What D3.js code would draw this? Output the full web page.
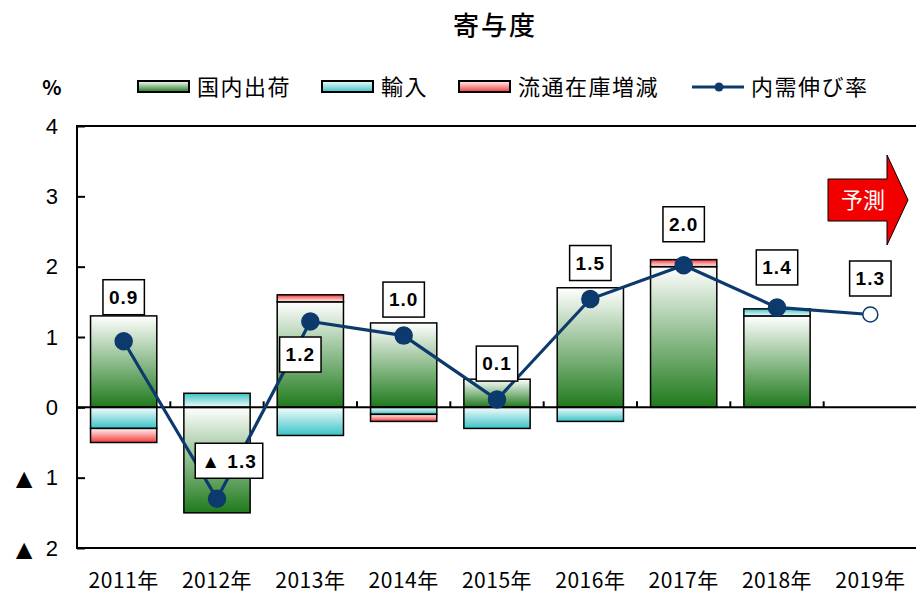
<!DOCTYPE html>
<html>
<head>
<meta charset="utf-8">
<script src="https://cdn.jsdelivr.net/npm/d3@7"></script>
<style>
  body { margin: 0; background: #fff; }
  svg { font-family: "Noto Sans CJK JP", "Liberation Sans", sans-serif; }
</style>
</head>
<body>
<div id="chart"></div>
<script>
// chart values
var years = ['2011年', '2012年', '2013年', '2014年', '2015年', '2016年', '2017年', '2018年', '2019年'];
var domestic = [1.3, -1.5, 1.5, 1.2, 0.4, 1.7, 2.0, 1.3, null];   // 国内出荷
var imports = [-0.3, 0.2, -0.4, -0.1, -0.3, -0.2, 0, 0.1, null];   // 輸入
var inventory = [-0.2, 0, 0.1, -0.1, 0, 0, 0.1, 0, null];         // 流通在庫増減
var demand = [0.94, -1.3, 1.22, 1.02, 0.11, 1.54, 2.02, 1.42, 1.32]; // 内需伸び率
var yTicks = [-2, -1, 0, 1, 2, 3, 4];
var seriesNames = ['国内出荷', '輸入', '流通在庫増減', '内需伸び率'];

var W = 916, H = 595;
var plotLeft = 77, plotRight = 917, plotTop = 126, plotBottom = 548;
var navy = '#0c3a6c';

var svg = d3.select('#chart').append('svg')
  .attr('width', W)
  .attr('height', H);

var defs = svg.append('defs');
function grad(id, c1, c2) {
  var g = defs.append('linearGradient').attr('id', id)
    .attr('x1', 0).attr('y1', 0).attr('x2', 0).attr('y2', 1);
  g.append('stop').attr('offset', '0%').attr('stop-color', c1);
  g.append('stop').attr('offset', '100%').attr('stop-color', c2);
}
grad('gGreen', '#ffffff', '#1f7a1c');
grad('gCyan', '#f4fcfc', '#3bc3c6');
grad('gCyanUp', '#3bc3c6', '#f4fcfc');
grad('gRed', '#fff4f4', '#f23a3a');
grad('gRedUp', '#f23a3a', '#fff4f4');

var x = d3.scaleBand().domain(years).range([plotLeft, plotRight]);
var y = d3.scaleLinear().domain([-2, 4]).range([plotBottom, plotTop]);
var barW = x.bandwidth() * 0.71;

// title
svg.append('text')
  .attr('x', 495).attr('y', 35)
  .attr('text-anchor', 'middle')
  .style('font-size', '26px')
  .style('font-weight', 500)
  .style('letter-spacing', '2px')
  .text('寄与度');

// legend
svg.append('text').attr('x', 52).attr('y', 95)
  .attr('text-anchor', 'middle')
  .style('font-size', '20px').style('font-weight', 'bold')
  .text('%');

var legendItems = [
  { x: 138, fill: 'url(#gGreen)', name: seriesNames[0] },
  { x: 322, fill: 'url(#gCyan)', name: seriesNames[1] },
  { x: 459, fill: 'url(#gRed)', name: seriesNames[2] },
  { x: 692, fill: null, name: seriesNames[3] }
];
legendItems.forEach(function(d) {
  if (d.fill) {
    svg.append('rect')
      .attr('x', d.x).attr('y', 81).attr('width', 51).attr('height', 11)
      .attr('fill', d.fill).attr('stroke', '#000').attr('stroke-width', 2);
  } else {
    svg.append('line')
      .attr('x1', d.x).attr('x2', d.x + 52).attr('y1', 87).attr('y2', 87)
      .attr('stroke', navy).attr('stroke-width', 3);
    svg.append('circle').attr('cx', d.x + 27).attr('cy', 87).attr('r', 4.5).attr('fill', navy);
  }
  svg.append('text')
    .attr('x', d.x + 59).attr('y', 95)
    .style('font-size', '22px')
    .style('letter-spacing', '1.5px')
    .text(d.name);
});

// y axis, ticks pointing inward
var yAxis = d3.axisLeft(y)
  .tickValues(yTicks)
  .tickSizeInner(-8)
  .tickSizeOuter(0)
  .tickPadding(19)
  .tickFormat(function(d) { return Math.abs(d); });

var gy = svg.append('g')
  .attr('transform', 'translate(' + plotLeft + ',0)')
  .call(yAxis);
gy.select('.domain').remove();
gy.selectAll('line').attr('stroke', '#000').attr('stroke-width', 2);
gy.selectAll('text')
  .style('font-size', '22px')
  .attr('fill', '#000');
gy.selectAll('.tick').filter(function(d) { return d < 0; })
  .append('text')
  .attr('x', -53).attr('dy', '0.36em')
  .attr('text-anchor', 'middle')
  .attr('fill', '#000')
  .style('font-size', '28px')
  .text('▲');

// frame
svg.append('path')
  .attr('d', 'M' + W + ',' + plotTop + 'H' + plotLeft + 'V' + plotBottom + 'H' + W)
  .attr('fill', 'none').attr('stroke', '#000').attr('stroke-width', 2);

// stacked bars
var segs = [];
years.forEach(function(yr, i) {
  if (domestic[i] === null) return;
  var pos = 0, neg = 0;
  [[domestic[i], 'dom'], [imports[i], 'imp'], [inventory[i], 'inv']].forEach(function(p) {
    var v = p[0];
    if (!v) return;
    var y0, y1;
    if (v > 0) { y0 = pos; pos += v; y1 = pos; } else { y0 = neg; neg += v; y1 = neg; }
    var fill;
    if (p[1] === 'dom') fill = 'url(#gGreen)';
    else if (p[1] === 'imp') fill = v > 0 ? 'url(#gCyanUp)' : 'url(#gCyan)';
    else fill = v > 0 ? 'url(#gRedUp)' : 'url(#gRed)';
    segs.push({ year: yr, y0: y0, y1: y1, fill: fill });
  });
});

svg.selectAll('.bar')
  .data(segs)
  .enter().append('rect')
  .attr('class', 'bar')
  .attr('x', function(d) { return x(d.year) + (x.bandwidth() - barW) / 2; })
  .attr('width', barW)
  .attr('y', function(d) { return y(Math.max(d.y0, d.y1)); })
  .attr('height', function(d) { return Math.abs(y(d.y0) - y(d.y1)); })
  .attr('fill', function(d) { return d.fill; })
  .attr('stroke', '#000')
  .attr('stroke-width', 1.5);

// zero line and category ticks
svg.append('line')
  .attr('x1', plotLeft).attr('x2', W)
  .attr('y1', y(0)).attr('y2', y(0))
  .attr('stroke', '#000').attr('stroke-width', 2);

svg.selectAll('.xtick')
  .data(years.slice(1))
  .enter().append('line')
  .attr('class', 'xtick')
  .attr('x1', function(d) { return x(d); })
  .attr('x2', function(d) { return x(d); })
  .attr('y1', y(0)).attr('y2', y(0) - 6)
  .attr('stroke', '#000').attr('stroke-width', 2);

// x labels
svg.selectAll('.xlab')
  .data(years)
  .enter().append('text')
  .attr('class', 'xlab')
  .attr('x', function(d) { return x(d) + x.bandwidth() / 2; })
  .attr('y', 588)
  .attr('text-anchor', 'middle')
  .style('font-size', '21px')
  .style('letter-spacing', '0.5px')
  .text(function(d) { return d; });

// demand line
var cx = function(d, i) { return x(years[i]) + x.bandwidth() / 2; };
var line = d3.line()
  .x(function(d, i) { return cx(d, i); })
  .y(function(d) { return y(d); });

svg.append('path')
  .datum(demand)
  .attr('d', line)
  .attr('fill', 'none')
  .attr('stroke', navy)
  .attr('stroke-width', 3.2);

svg.selectAll('.dot')
  .data(demand)
  .enter().append('circle')
  .attr('class', 'dot')
  .attr('cx', cx)
  .attr('cy', function(d) { return y(d); })
  .attr('r', function(d, i) { return i === demand.length - 1 ? 7.5 : 8.5; })
  .attr('fill', function(d, i) { return i === demand.length - 1 ? '#fff' : navy; })
  .attr('stroke', navy)
  .attr('stroke-width', 1.5);

// value labels
var labelShift = { '2011年': [0, -44], '2012年': [12, -38], '2013年': [-10, 33], '2017年': [0, -41], '2018年': [0, -40] };
demand.forEach(function(v, i) {
  var s = labelShift[years[i]] || [0, -36];
  var lx = cx(v, i) + s[0];
  var ly = y(v) + s[1];
  var txt = v < 0 ? '▲ ' + Math.abs(v).toFixed(1) : v.toFixed(1);
  var g = svg.append('g').attr('class', 'vlab');
  var rect = g.append('rect').attr('fill', '#fff').attr('stroke', '#000').attr('stroke-width', 1.5);
  var t = g.append('text')
    .attr('x', lx).attr('y', ly)
    .attr('dy', '0.36em')
    .attr('text-anchor', 'middle')
    .style('font-family', '"Liberation Sans", sans-serif')
    .style('font-size', '19px')
    .style('font-weight', 'bold')
    .style('letter-spacing', '1px')
    .text(txt);
  var bw = t.node().getComputedTextLength() + 12;
  rect.attr('x', lx - bw / 2).attr('y', ly - 17.5).attr('width', bw).attr('height', 35);
});

// forecast arrow
var ax = 828, ay = 200;
svg.append('path')
  .attr('d', 'M' + ax + ',' + (ay - 21) + 'H' + (ax + 59) + 'V' + (ay - 45) +
    'L' + (ax + 80) + ',' + ay + 'L' + (ax + 59) + ',' + (ay + 45) + 'V' + (ay + 21) +
    'H' + ax + 'Z')
  .attr('fill', '#f20000')
  .attr('stroke', '#000')
  .attr('stroke-width', 1);
svg.append('text')
  .attr('x', ax + 35).attr('y', ay + 8)
  .attr('text-anchor', 'middle')
  .attr('fill', '#fff')
  .style('font-size', '22px')
  .text('予測');
</script>
</body>
</html>
